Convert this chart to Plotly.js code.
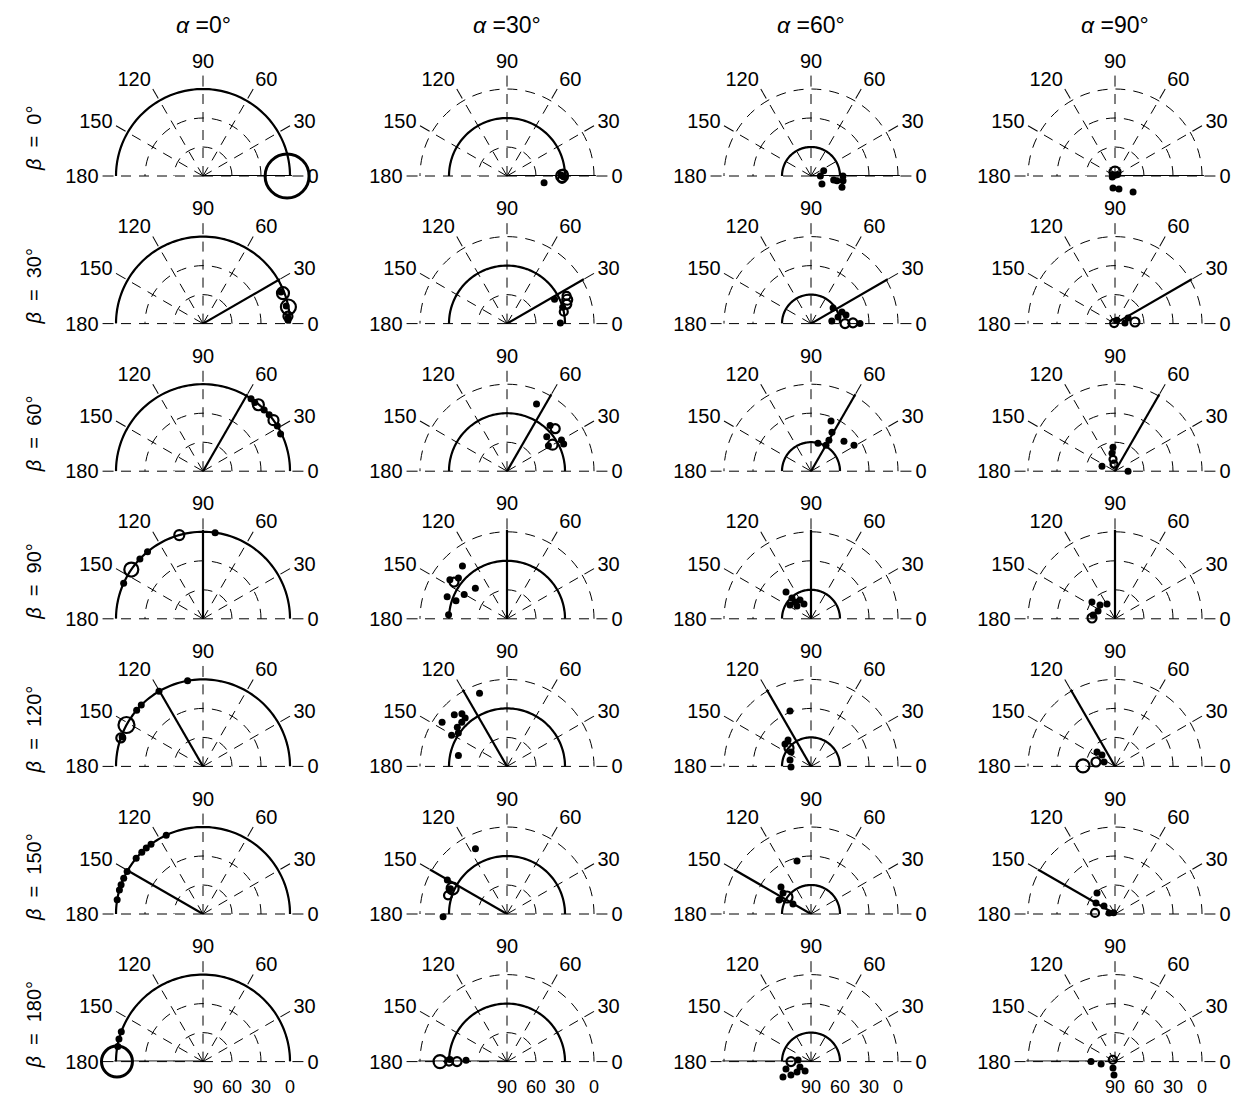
<!DOCTYPE html>
<html><head><meta charset="utf-8">
<script src="https://cdn.plot.ly/plotly-3.0.1.min.js"></script>
<style>html,body{margin:0;padding:0;background:#fff}#chart{width:1238px;height:1097px}</style>
</head><body><div id="chart"></div>
<script>
// ---- data ----
const alphas = [0, 30, 60, 90];
const betas = [0, 30, 60, 90, 120, 150, 180];
const angleTicks = [0, 30, 60, 90, 120, 150, 180];
const radialTicks = [0, 30, 60, 90];

// filled dots, [row=beta][col=alpha]
const dotTheta = [
  [[], [-10.4, 1, -1], [22.8, 0, -10, -10.2, 0, -8.3, -36, -20], [-99.5, -73, -41.6, 30, 150, 200]],
  [[22, 12, 4, 2.3], [27.2, 0.7, 16.3], [35.3, 20.5, 13.7, 13.8, 0, 7], [3, 23, 60]],
  [[56.5, 45, 40.5, 31.3, 25.6, 53], [66.3, 46.7, 41, 29.9, 25.6, 31.6], [68.2, 61.7, 59.9, 76, 42.3, 31.2, 60], [94.8, 99.5, 159, 0]],
  [[82, 129.6, 136.5, 155.8], [130.2, 145.6, 140, 136, 150.3, 159.7, 160.5, 176], [133, 132.4, 133.6, 120.3, 115.3, 137.6, 146.7], [143.9, 137.4, 118.4, 155.4, 170]],
  [[100.2, 120.4, 135.2, 139.7, 160], [110.6, 135.6, 130.6, 130.9, 145.8, 135.7, 141.8, 150.6, 145.6, 167.4], [110.8, 131, 139.3, 144, 163, 181.7], [141.3, 138.8, 158]],
  [[115, 126.7, 130.7, 134.7, 140.2, 150.7, 155.7, 160.3, 163.9, 170.6], [115.8, 150.4, 182.4, 156], [104.8, 138, 143.1, 156.4, 151], [130.6, 150, 144, 170, 135]],
  [[159.9, 165, 170], [178, 178, 182], [173, 196.5, 208.8, 213.8, 216.6, 206, 237.5], [180, 190, 252.6, 265.7]]
];
const dotR = [
  [[], [51, 34, 31], [75.8, 80.3, 66.2, 62.7, 56.9, 56.5, 76, 55.9], [77.4, 76, 65, 87, 87, 87]],
  [[3, 2, 2, 2], [34.7, 34.8, 30], [62, 55.8, 61.2, 52.7, 39.3, 68.3], [79.7, 75.3, 86]],
  [[0, 0.5, 0, 0, 1, 1], [14, 25, 35.5, 25, 25, 39.7], [34.2, 44.2, 53, 60.1, 43.9, 38, 59], [65.1, 71.1, 75.6, 76.5]],
  [[0, 0, 0, 0], [18.6, 18.4, 24.4, 44.5, 39, 24, 34, 29.4], [52.1, 60.8, 66, 67.5, 73, 70.4, 64], [60.5, 68.9, 72.6, 70.7, 67]],
  [[0, 0, 0, 0, 1], [9.2, 13.7, 18.3, 23.9, 8.8, 24.6, 24.6, 24.2, 29, 38.5], [28.7, 53.8, 54.5, 64.5, 67.3, 69.3], [66.2, 72.1, 77.8]],
  [[0, 0, 0, 0, 0, 0, 0, 0, 0, 0], [15, 19, 23.8, 26], [33.3, 48.2, 53.8, 53.9, 68.7], [61.4, 67.3, 75.9, 83.8, 88]],
  [[0, 0, 0.5], [31, 47.6, 28], [76.5, 63, 56.9, 65, 72, 77.3, 78.6], [65.2, 75.4, 83, 76.1]]
];

// open rings, [row=beta][col=alpha]
const ringTheta = [
  [[0], [0, 2, -3], [], [90]],
  [[20.8, 11, 5], [21.6, 18, 11.8, 25], [0, 1], [150, 4.6]],
  [[50.2, 35.9], [41.4, 30.2], [], [99.5, 98]],
  [[105.8, 145.5], [145.3], [], [178]],
  [[151.6, 160.9], [], [140], [179, 167]],
  [[], [154.9, 162.4], [144.7], [177]],
  [[180], [180, 180, 180], [180], [140]]
];
const ringR = [
  [[3], [33, 32, 33], [], [86]],
  [[1.5, 0, 1.8], [23, 25, 30, 22], [54.8, 46.6], [89, 69.3]],
  [[0.5, 0], [23.5, 35.5], [], [77.5, 82.7]],
  [[0, 0], [23.3], [], [66.2]],
  [[0, 0], [], [60.3], [56.9, 69.8]],
  [[], [27.9, 26], [59.6], [69.3]],
  [[1], [20.7, 38.3, 30], [69.3], [87]]
];
const ringSize = [
  [[44], [12, 9, 8], [], [11]],
  [[12, 15, 9], [10, 9, 8, 8], [9, 9], [8, 9]],
  [[11, 10], [9, 10], [], [7, 7]],
  [[10, 14], [9], [], [9]],
  [[16, 9], [], [9], [13, 9]],
  [[], [12, 8], [11], [8]],
  [[31], [13, 9, 8], [9], [8]]
];

// ---- layout geometry ----
const W = 1238, H = 1097;
const colX = [203, 507, 811, 1115];
const rowY = [176, 323.6, 471.2, 618.8, 766.4, 914, 1061.6];
const R0 = 87;                 // pixel radius of r = 0
const rMin = -2;               // radial range end (slightly beyond 0 so the 0-ring is drawn)
const Rd = R0 * (90 - rMin) / 90;
const FONT = 'Liberation Sans, Arial, sans-serif';
const GRID = {showgrid: true, gridcolor: '#000', gridwidth: 1, griddash: '10px,8px'};

const traces = [];
const layout = {
  width: W, height: H,
  margin: {l: 0, r: 0, t: 0, b: 0},
  paper_bgcolor: '#fff',
  showlegend: false,
  font: {family: FONT, color: '#000'},
  annotations: []
};

const inUpper = t => { const a = ((t % 360) + 360) % 360; return a <= 180 || a >= 359.999; };
function split(th, rr, extra) {
  const up = {t: [], r: [], s: []}, lo = {t: [], r: [], s: []};
  th.forEach((t, k) => {
    const g = inUpper(t) ? up : lo;
    g.t.push(t); g.r.push(rr[k]); if (extra) g.s.push(extra[k]);
  });
  return [up, lo];
}
function markerTraces(id, dots, rings) {
  const out = [];
  if (dots.t.length) out.push({type: 'scatterpolar', subplot: id, mode: 'markers',
    theta: dots.t, r: dots.r, cliponaxis: false, hoverinfo: 'skip',
    marker: {symbol: 'circle', size: 7, color: '#000', opacity: 1}});
  if (rings.t.length) out.push({type: 'scatterpolar', subplot: id, mode: 'markers',
    theta: rings.t, r: rings.r, cliponaxis: false, hoverinfo: 'skip',
    marker: {symbol: 'circle-open', size: rings.s, color: '#000', opacity: 1,
      line: {color: '#000', width: rings.s.map(s => s > 25 ? 3 : 2.2)}}});
  return out;
}

let idx = 0, extraIdx = betas.length * alphas.length;
const overlayTraces = [];
betas.forEach((beta, i) => {
  alphas.forEach((alpha, j) => {
    const id = idx === 0 ? 'polar' : 'polar' + (idx + 1);
    const cx = colX[j], cy = rowY[i];
    layout[id] = {
      domain: {x: [(cx - Rd) / W, (cx + Rd) / W], y: [1 - cy / H, 1 - (cy - Rd) / H]},
      sector: [0, 180],
      bgcolor: 'rgba(0,0,0,0)',
      radialaxis: Object.assign({
        range: [90, rMin], tickvals: radialTicks, ticktext: radialTicks.map(String),
        showline: false, ticks: 'outside', ticklen: 9, tickcolor: 'rgba(0,0,0,0)', angle: 0,
        showticklabels: i === betas.length - 1,
        tickfont: {size: 18, family: FONT, color: '#000'}
      }, GRID),
      angularaxis: Object.assign({
        tickvals: angleTicks, ticktext: angleTicks.map(String),
        direction: 'counterclockwise', rotation: 0, showline: false,
        ticks: 'outside', ticklen: 11, tickcolor: '#000', tickwidth: 1,
        tickfont: {size: 20, family: FONT, color: '#000'}
      }, GRID)
    };
    // theoretical semicircle at r = alpha
    if (alpha < 90) {
      const th = [], rr = [];
      for (let t = 0; t <= 180; t += 2) { th.push(t); rr.push(alpha); }
      traces.push({type: 'scatterpolar', subplot: id, mode: 'lines', theta: th, r: rr,
        line: {color: '#000', width: 2.2}, cliponaxis: false, hoverinfo: 'skip'});
    }
    // beta direction line
    traces.push({type: 'scatterpolar', subplot: id, mode: 'lines', theta: [beta, beta], r: [90, -13.5],
      line: {color: '#000', width: 2.2}, cliponaxis: false, hoverinfo: 'skip'});

    const [dUp, dLo] = split(dotTheta[i][j], dotR[i][j]);
    const [rUp, rLo] = split(ringTheta[i][j], ringR[i][j], ringSize[i][j]);
    traces.push(...markerTraces(id, dUp, rUp));

    // lower half overlay (points that fall below the baseline)
    if (dLo.t.length || rLo.t.length) {
      extraIdx++;
      const oid = 'polar' + extraIdx;
      const rLow = Math.max(rMin, 90 - 90 * (H - 1 - cy) / R0);
      const Ro = R0 * (90 - rLow) / 90;
      layout[oid] = {
        domain: {x: [(cx - Ro) / W, (cx + Ro) / W], y: [Math.max(0, 1 - (cy + Ro) / H), 1 - cy / H]},
        sector: [180, 360], bgcolor: 'rgba(0,0,0,0)',
        radialaxis: {range: [90, rLow], visible: false, showgrid: false},
        angularaxis: {visible: false, showgrid: false, direction: 'counterclockwise', rotation: 0}
      };
      overlayTraces.push(...markerTraces(oid, dLo, rLo));
    }
    idx++;
  });
});

alphas.forEach((a, j) => {
  layout.annotations.push({xref: 'paper', yref: 'paper', x: colX[j] / W, y: 1 - 25 / H,
    xanchor: 'center', yanchor: 'middle', showarrow: false,
    text: '<i>α</i> =' + a + '°', font: {size: 23, family: FONT, color: '#000'}});
});
betas.forEach((b, i) => {
  layout.annotations.push({xref: 'paper', yref: 'paper', x: 34 / W, y: 1 - (rowY[i] - 37) / H,
    xanchor: 'center', yanchor: 'middle', showarrow: false, textangle: -90,
    text: '<i>β</i>  =  ' + b + '°', font: {size: 20, family: FONT, color: '#000'}});
});

Plotly.newPlot('chart', traces.concat(overlayTraces), layout, {staticPlot: true});
</script></body></html>
